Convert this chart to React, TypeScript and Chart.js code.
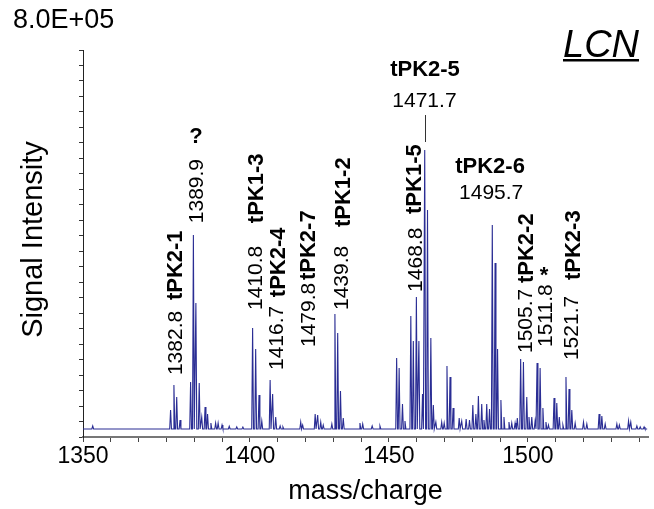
import { useEffect, useRef } from "react";
import { Chart, registerables } from "chart.js";

Chart.register(...registerables);

const FONT = '"Liberation Sans", Arial, Helvetica, sans-serif';

// ---- data (m/z axis units, signal intensity) ----
const peakMz = [
  1343.5, 1371.5, 1372.7, 1373.7, 1374.9, 1378.7, 1379.7, 1380.6, 1381.8, 1382.7,
  1383.9, 1384.8, 1386.0, 1387.7, 1388.6, 1390.0, 1392.6, 1395.3, 1397.5, 1401.0,
  1402.1, 1403.3, 1404.3, 1407.3, 1408.2, 1409.3, 1410.9, 1411.9, 1418.3, 1419.0,
  1423.5, 1424.4, 1425.5, 1426.4, 1429.5, 1430.6, 1431.6, 1432.6, 1433.6, 1439.6,
  1440.6, 1444.0, 1446.8, 1452.8, 1453.7, 1454.9, 1455.8, 1457.9, 1458.8, 1459.9,
  1460.8, 1462.1, 1462.9, 1463.9, 1465.1, 1466.0, 1466.9, 1469.0, 1469.9, 1470.9,
  1472.0, 1473.1, 1475.3, 1476.2, 1477.8, 1479.0, 1480.2, 1481.3, 1482.2, 1483.4,
  1484.2, 1485.2, 1486.2, 1487.2, 1488.2, 1489.1, 1490.3, 1491.4, 1493.2, 1494.2,
  1495.4, 1496.2, 1497.4, 1498.4, 1499.6, 1500.4, 1501.4, 1502.6, 1503.3, 1504.4,
  1505.4, 1506.5, 1507.4, 1509.4, 1510.4, 1511.3, 1512.6, 1513.7, 1514.8, 1515.8,
  1517.0, 1520.0, 1521.2, 1525.6, 1526.6, 1527.8, 1532.0, 1532.9, 1536.2, 1537.0,
  1539.2, 1540.4, 1541.8,
];
const peakIntensity = [
  22700, 55800, 107500, 82700, 35100, 113700, 417500, 277000, 111600, 41300,
  62000, 47500, 28900, 28900, 28900, 24800, 22000, 21000, 20500, 225300,
  181900, 86800, 33100, 117800, 88900, 41300, 22700, 20700, 31000, 24800,
  47500, 45500, 31000, 24800, 26900, 254200, 215000, 95100, 39300, 28900,
  26900, 22700, 22700, 163300, 142600, 68200, 33100, 250100, 198400, 289400,
  198400, 88900, 593200, 469200, 204600, 66100, 31000, 31000, 28900, 146800,
  124000, 59900, 39300, 33100, 37200, 35100, 66100, 47500, 84700, 68200,
  35100, 68200, 57900, 438200, 359700, 181900, 76500, 41300, 31000, 28900,
  28900, 39300, 161200, 155000, 82700, 41300, 41300, 33100, 153000, 142600,
  59900, 31000, 24800, 80600, 70300, 41300, 24800, 124000, 99200, 55800,
  28900, 31000, 26900, 47500, 43400, 26900, 26900, 24800, 33100, 31000,
  22700, 20700, 20700,
];
const baselineLevel = 16500;
const peakHalfWidth = 0.32;

const xMin = 1340;
const xMax = 1543.2;
const yMin = 0;
const yMax = 800000;

const xTickValues = [
  1340, 1350, 1360, 1370, 1380, 1390, 1400, 1410, 1420, 1430, 1440,
  1450, 1460, 1470, 1480, 1490, 1500, 1510, 1520, 1530, 1540,
];
const xTickLabelAt = [1340, 1400, 1450, 1500];
const xTickLabelText = ["1350", "1400", "1450", "1500"];
const yTickValues = Array.from({ length: 26 }, (_, i) => i * 32000);

const yTopLabel = "8.0E+05";
const xTitle = "mass/charge";
const yTitle = "Signal Intensity";
const cornerTitle = "LCN";

// vertical annotations: text, bold, m/z of baseline column, intensity where text starts
const verticalLabels = [
  { text: "1382.8", bold: false, mz: 1375.6, at: 128000 },
  { text: "tPK2-1", bold: true, mz: 1375.6, at: 283000 },
  { text: "1389.9", bold: false, mz: 1383.2, at: 442000 },
  { text: "1410.8", bold: false, mz: 1404.4, at: 262500 },
  { text: "tPK1-3", bold: true, mz: 1404.7, at: 442000 },
  { text: "1416.7", bold: false, mz: 1411.9, at: 138500 },
  { text: "tPK2-4", bold: true, mz: 1412.7, at: 289000 },
  { text: "1479.8", bold: false, mz: 1423.5, at: 186000 },
  { text: "tPK2-7", bold: true, mz: 1423.5, at: 324500 },
  { text: "1439.8", bold: false, mz: 1435.3, at: 262500 },
  { text: "tPK1-2", bold: true, mz: 1436.0, at: 434000 },
  { text: "1468.8", bold: false, mz: 1461.9, at: 300000 },
  { text: "tPK1-5", bold: true, mz: 1461.6, at: 461000 },
  { text: "1505.7", bold: false, mz: 1501.5, at: 173600 },
  { text: "tPK2-2", bold: true, mz: 1501.9, at: 318300 },
  { text: "1511.8", bold: false, mz: 1508.7, at: 186000 },
  { text: "1521.7", bold: false, mz: 1518.1, at: 159000 },
  { text: "tPK2-3", bold: true, mz: 1518.8, at: 324500 },
];
// upright annotations: text, bold, m/z of centre, intensity of baseline
const uprightLabels = [
  { text: "?", bold: true, mz: 1380.6, at: 607700 },
  { text: "*", bold: true, mz: 1505.8, at: 320000 },
  { text: "tPK2-5", bold: true, mz: 1463.0, at: 746000 },
  { text: "1471.7", bold: false, mz: 1462.8, at: 682000 },
  { text: "tPK2-6", bold: true, mz: 1486.4, at: 545700 },
  { text: "1495.7", bold: false, mz: 1486.8, at: 492000 },
];
const leaderLine = { mz: 1463.0, from: 609800, to: 665600 };

function buildSpectrum() {
  const pts: { x: number; y: number }[] = [{ x: xMin, y: baselineLevel }];
  peakMz.forEach((mz, i) => {
    pts.push({ x: mz - peakHalfWidth, y: baselineLevel });
    pts.push({ x: mz, y: peakIntensity[i] });
    pts.push({ x: mz + peakHalfWidth, y: baselineLevel });
  });
  pts.push({ x: 1542.9, y: baselineLevel });
  return pts;
}

const annotationPlugin = {
  id: "msAnnotations",
  afterDraw(chart: any) {
    const ctx = chart.ctx as CanvasRenderingContext2D;
    const xs = chart.scales.x;
    const ys = chart.scales.y;
    const area = chart.chartArea;
    ctx.save();
    ctx.fillStyle = "#000";

    for (const l of verticalLabels) {
      ctx.save();
      ctx.font = `${l.bold ? "bold 22px" : "21px"} ${FONT}`;
      ctx.translate(xs.getPixelForValue(l.mz), ys.getPixelForValue(l.at));
      ctx.rotate(-Math.PI / 2);
      ctx.textAlign = "left";
      ctx.textBaseline = "alphabetic";
      ctx.fillText(l.text, 0, 0);
      ctx.restore();
    }
    for (const l of uprightLabels) {
      ctx.font = `${l.bold ? "bold 22px" : "21px"} ${FONT}`;
      ctx.textAlign = "center";
      ctx.textBaseline = "alphabetic";
      ctx.fillText(l.text, xs.getPixelForValue(l.mz), ys.getPixelForValue(l.at));
    }
    // leader line
    ctx.strokeStyle = "#333";
    ctx.lineWidth = 1;
    const lx = Math.round(xs.getPixelForValue(leaderLine.mz)) + 0.5;
    ctx.beginPath();
    ctx.moveTo(lx, ys.getPixelForValue(leaderLine.to));
    ctx.lineTo(lx, ys.getPixelForValue(leaderLine.from));
    ctx.stroke();

    // top value label
    ctx.font = `27px ${FONT}`;
    ctx.textAlign = "left";
    ctx.fillText(yTopLabel, area.left - 70, area.top - 22);

    // corner title
    ctx.font = `italic 38px ${FONT}`;
    ctx.textAlign = "left";
    ctx.fillText(cornerTitle, 563, 57);
    const w = ctx.measureText(cornerTitle).width;
    ctx.fillRect(563, 59, w, 2.5);

    // axis titles
    ctx.font = `27px ${FONT}`;
    ctx.textAlign = "center";
    ctx.fillText(xTitle, (area.left + area.right) / 2, 499);
    ctx.save();
    ctx.font = `29px ${FONT}`;
    ctx.translate(42, (area.top + area.bottom) / 2 - 4);
    ctx.rotate(-Math.PI / 2);
    ctx.fillText(yTitle, 0, 0);
    ctx.restore();

    ctx.restore();
  },
};

export default function App() {
  const ref = useRef<HTMLCanvasElement | null>(null);
  useEffect(() => {
    if (!ref.current) return;
    const chart = new Chart(ref.current, {
      type: "line",
      data: {
        datasets: [
          {
            data: buildSpectrum(),
            borderColor: "#2a2d94",
            borderWidth: 1.1,
            pointRadius: 0,
            tension: 0,
            fill: false,
          },
        ],
      },
      options: {
        responsive: false,
        animation: false,
        layout: { padding: { left: 0, right: 6, top: 50, bottom: 0 } },
        plugins: { legend: { display: false }, tooltip: { enabled: false } },
        scales: {
          x: {
            type: "linear",
            min: xMin,
            max: xMax,
            afterBuildTicks: (s: any) => {
              s.ticks = xTickValues.map((v) => ({ value: v }));
            },
            afterFit: (s: any) => {
              s.height = 72;
            },
            border: { display: true, color: "#777", width: 2 },
            grid: { drawOnChartArea: false, drawTicks: true, tickLength: 5, color: "#444" },
            ticks: {
              autoSkip: false,
              maxRotation: 0,
              padding: 1,
              color: "#000",
              font: { family: FONT, size: 23 },
              callback: (v: any) => {
                const i = xTickLabelAt.indexOf(Number(v));
                return i >= 0 ? xTickLabelText[i] : "";
              },
            },
          },
          y: {
            type: "linear",
            min: yMin,
            max: yMax,
            afterBuildTicks: (s: any) => {
              s.ticks = yTickValues.map((v) => ({ value: v }));
            },
            afterFit: (s: any) => {
              s.width = 83;
            },
            border: { display: true, color: "#222", width: 1 },
            grid: { drawOnChartArea: false, drawTicks: true, tickLength: 4, color: "#333" },
            ticks: { display: false },
          },
        },
      },
      plugins: [annotationPlugin],
    });
    return () => chart.destroy();
  }, []);
  return (
    <div style={{ position: "absolute", left: 0, top: 0, width: 654, height: 509, background: "#fff" }}>
      <canvas ref={ref} width={654} height={509} style={{ display: "block" }} />
    </div>
  );
}
